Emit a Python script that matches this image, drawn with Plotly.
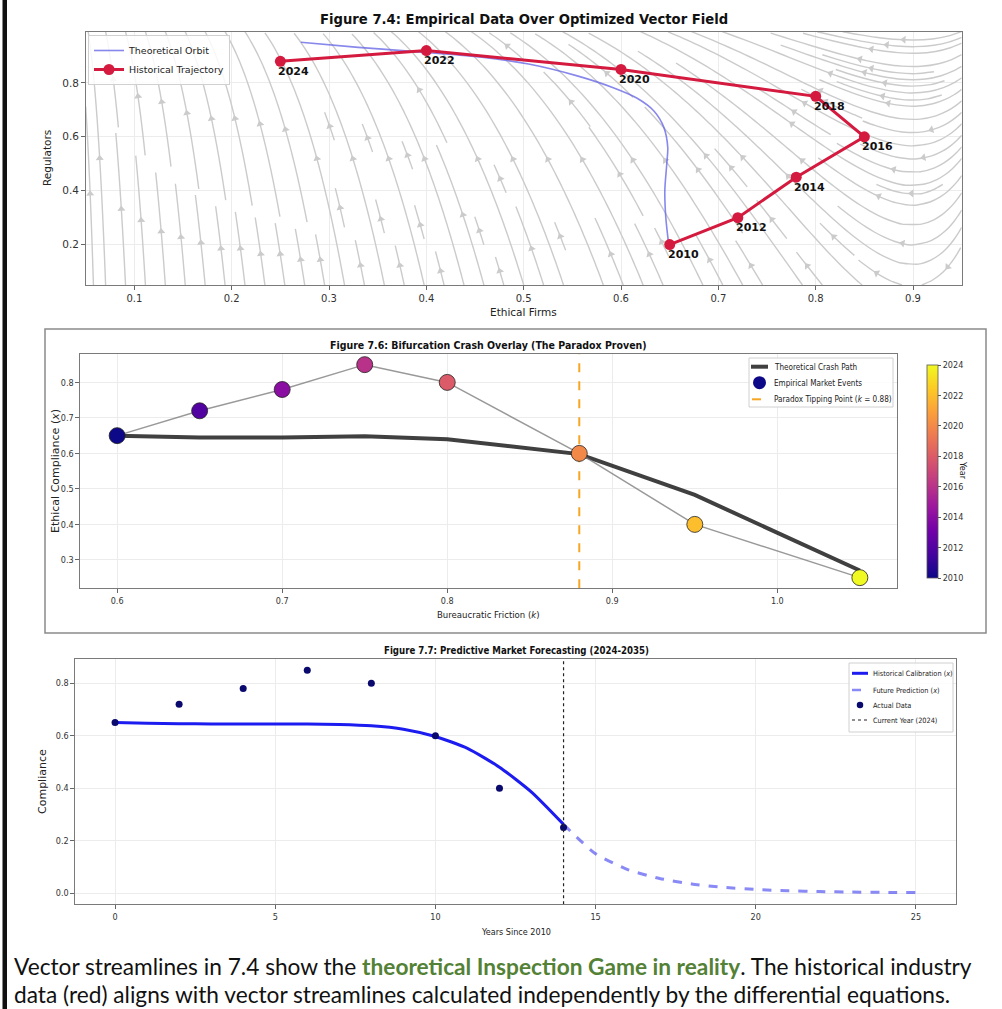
import numpy as np
import plotly.graph_objects as go

W, H = 1002, 1009

# ---------------- Figure 7.4: trajectory over the vector field ----------------
years = [2010, 2012, 2014, 2016, 2018, 2020, 2022, 2024]
ethical_firms = [0.65, 0.72, 0.78, 0.85, 0.80, 0.60, 0.40, 0.25]
regulators = [0.20, 0.30, 0.45, 0.60, 0.75, 0.85, 0.92, 0.88]

orbit_x = [0.649, 0.646, 0.645, 0.647, 0.648, 0.644, 0.634, 0.617, 0.592,
           0.555, 0.505, 0.455, 0.385, 0.330, 0.271]
orbit_y = [0.200, 0.300, 0.400, 0.500, 0.560, 0.635, 0.695, 0.742, 0.782,
           0.826, 0.870, 0.896, 0.917, 0.932, 0.951]

# ---------------- Figure 7.6: bifurcation overlay ----------------
friction_k = [0.60, 0.65, 0.70, 0.75, 0.80, 0.88, 0.95, 1.05]
compliance = [0.65, 0.72, 0.78, 0.85, 0.80, 0.60, 0.40, 0.25]
crash_path = [0.650, 0.645, 0.645, 0.648, 0.640, 0.598, 0.483, 0.270]
tipping_k = 0.88

# ---------------- Figure 7.7: forecast ----------------
years_since = [0, 2, 4, 6, 8, 10, 12, 14]
calib_t = list(range(0, 15))
calib_x = [0.650, 0.648, 0.646, 0.645, 0.645, 0.645, 0.645, 0.643, 0.638,
           0.625, 0.597, 0.552, 0.480, 0.385, 0.262]
forecast_t = list(range(14, 26))
forecast_x = [0.262, 0.150, 0.090, 0.056, 0.035, 0.022, 0.014, 0.009,
              0.006, 0.004, 0.003, 0.002]
current_year_t = 14

# ---------------- vector field (ethical firms x, regulators y) ----------------
X_STAR = 0.90   # regulators' nullcline
Y_CAP = 1.2
GAIN = 6.5
XR = (0.05, 0.95)
YR = (0.05, 0.99)


def field(x, y):
    dx = -x * (1.0 - x)
    dy = GAIN * (X_STAR - x) * (Y_CAP - y)
    return dx, dy


def spiral(n):
    xfirst, yfirst, xlast, ylast = 0, 1, n - 1, n - 1
    x = y = 0
    d = 'right'
    for _ in range(n * n):
        yield x, y
        if d == 'right':
            x += 1
            if x >= xlast:
                xlast -= 1
                d = 'up'
        elif d == 'up':
            y += 1
            if y >= ylast:
                ylast -= 1
                d = 'left'
        elif d == 'left':
            x -= 1
            if x <= xfirst:
                xfirst += 1
                d = 'down'
        else:
            y -= 1
            if y <= yfirst:
                yfirst += 1
                d = 'right'


def streamplot(density=1.5, max_len=4.0, min_len=0.1):
    n = int(30 * density)
    step = 1.0 / n
    mask = np.zeros((n, n), dtype=bool)
    sx, sy = XR[1] - XR[0], YR[1] - YR[0]

    def direction(p):
        u, v = field(XR[0] + p[0] * sx, YR[0] + p[1] * sy)
        u /= sx
        v /= sy
        s = np.hypot(u, v)
        if s < 1e-12:
            return None
        return np.array([u / s, v / s])

    def cell(p):
        return (int(p[1] * (n - 1) + 0.5), int(p[0] * (n - 1) + 0.5))

    def inside(p):
        return 0.0 <= p[0] <= 1.0 and 0.0 <= p[1] <= 1.0

    def trace(p0, sign, start, visited):
        pts, length, p, cur = [], 0.0, p0, start
        while length < max_len:
            d1 = direction(p)
            if d1 is None:
                break
            mid = p + 0.5 * step * sign * d1
            if not inside(mid):
                break
            d2 = direction(mid)
            if d2 is None:
                break
            q = p + step * sign * d2
            if not inside(q):
                # finish the line on the frame edge
                t = 1.0
                for i in range(2):
                    if q[i] < 0:
                        t = min(t, p[i] / (p[i] - q[i]))
                    elif q[i] > 1:
                        t = min(t, (1 - p[i]) / (q[i] - p[i]))
                pts.append(p + t * (q - p))
                length += t * step
                break
            c = cell(q)
            if c != cur:
                if mask[c]:
                    break
                mask[c] = True
                visited.append(c)
                cur = c
            pts.append(q)
            length += step
            p = q
        return pts, length

    lines = []
    for ix, iy in spiral(n):
        if mask[iy, ix]:
            continue
        p0 = np.array([ix / (n - 1), iy / (n - 1)])
        mask[iy, ix] = True
        visited = [(iy, ix)]
        back, lb = trace(p0, -1.0, (iy, ix), visited)
        fwd, lf = trace(p0, 1.0, (iy, ix), visited)
        if lb + lf >= min_len:
            pts = np.array(back[::-1] + [p0] + fwd)
            lines.append(np.column_stack([XR[0] + pts[:, 0] * sx,
                                          YR[0] + pts[:, 1] * sy]))
        else:
            for c in visited:
                mask[c] = False
    return lines


# pixel boxes of the three plot areas (left, right, top, bottom)
BOX1 = (85.7, 961.7, 31.7, 285.0)
BOX2 = (80.0, 897.0, 354.0, 588.3)
BOX3 = (75.0, 956.0, 659.0, 904.3)


def xdom(b):
    return [b[0] / W, b[1] / W]


def ydom(b):
    return [1 - b[3] / H, 1 - b[2] / H]


stream = streamplot()
sx_all, sy_all = [], []
ax_x, ax_y, ax_ang = [], [], []
pw = BOX1[1] - BOX1[0]
ph = BOX1[3] - BOX1[2]
for ln in stream:
    sx_all += list(ln[:, 0]) + [None]
    sy_all += list(ln[:, 1]) + [None]
    seg = np.hypot(np.diff(ln[:, 0]), np.diff(ln[:, 1]))
    s = np.cumsum(seg)
    k = int(np.searchsorted(s, s[-1] / 2.0))
    k = min(k, len(ln) - 2)
    dxp = (ln[k + 1, 0] - ln[k, 0]) / (XR[1] - XR[0]) * pw
    dyp = (ln[k + 1, 1] - ln[k, 1]) / (YR[1] - YR[0]) * ph
    ax_x.append(0.5 * (ln[k, 0] + ln[k + 1, 0]))
    ax_y.append(0.5 * (ln[k, 1] + ln[k + 1, 1]))
    ax_ang.append(float(np.degrees(np.arctan2(dxp, dyp))))

STREAM_C = '#cbcbcb'
TOPF = 'DejaVu Sans'
CONDF = 'DejaVu Sans Condensed, DejaVu Sans'

fig = go.Figure()

# --- Figure 7.4 traces
fig.add_trace(go.Scatter(x=sx_all, y=sy_all, mode='lines',
                         line=dict(color=STREAM_C, width=1.4, shape='spline',
                                   smoothing=0.6),
                         hoverinfo='skip', showlegend=False,
                         xaxis='x', yaxis='y'))
fig.add_trace(go.Scatter(x=ax_x, y=ax_y, mode='markers',
                         marker=dict(symbol='triangle-up', size=7,
                                     color=STREAM_C, angle=ax_ang,
                                     line=dict(width=0)),
                         hoverinfo='skip', showlegend=False,
                         xaxis='x', yaxis='y'))
fig.add_trace(go.Scatter(x=orbit_x, y=orbit_y, mode='lines',
                         line=dict(color='rgba(95,95,230,0.75)', width=1.6,
                                   shape='spline', smoothing=0.8),
                         name='Theoretical Orbit', legend='legend',
                         xaxis='x', yaxis='y'))
fig.add_trace(go.Scatter(x=ethical_firms, y=regulators, mode='lines+markers',
                         line=dict(color='#d41a3e', width=3),
                         marker=dict(color='#d41a3e', size=11),
                         name='Historical Trajectory', legend='legend',
                         xaxis='x', yaxis='y'))

# --- Figure 7.6 traces
fig.add_trace(go.Scatter(x=friction_k, y=crash_path, mode='lines',
                         line=dict(color='rgba(30,30,30,0.85)', width=4),
                         showlegend=False, xaxis='x2', yaxis='y2'))
fig.add_trace(go.Scatter(x=friction_k, y=compliance, mode='lines',
                         line=dict(color='rgba(128,128,128,0.8)', width=1.5),
                         showlegend=False, hoverinfo='skip',
                         xaxis='x2', yaxis='y2'))
fig.add_trace(go.Scatter(x=[tipping_k, tipping_k], y=[0.22, 0.88], mode='lines',
                         line=dict(color='#f5a623', width=2, dash='dash'),
                         showlegend=False, xaxis='x2', yaxis='y2'))
fig.add_trace(go.Scatter(x=friction_k, y=compliance, mode='markers',
                         marker=dict(size=16, color=years, colorscale='Plasma',
                                     cmin=2010, cmax=2024,
                                     line=dict(color='#222', width=0.8),
                                     colorbar=dict(
                                         x=917 / W, xanchor='left',
                                         y=1 - 471.5 / H, yanchor='middle',
                                         len=233, lenmode='pixels',
                                         thickness=11, thicknessmode='pixels',
                                         outlinewidth=0.8, outlinecolor='#555',
                                         tickvals=list(range(2010, 2025, 2)),
                                         ticks='outside', ticklen=3,
                                         tickcolor='#555',
                                         tickfont=dict(family=CONDF, size=9,
                                                       color='#333'))),
                         showlegend=False, xaxis='x2', yaxis='y2'))

# --- Figure 7.7 traces
fig.add_trace(go.Scatter(x=calib_t, y=calib_x, mode='lines',
                         line=dict(color='#1c1cf0', width=3, shape='spline',
                                   smoothing=0.6),
                         showlegend=False, xaxis='x3', yaxis='y3'))
fig.add_trace(go.Scatter(x=forecast_t, y=forecast_x, mode='lines',
                         line=dict(color='rgba(60,60,240,0.6)', width=3,
                                   dash='dash', shape='spline', smoothing=0.6),
                         showlegend=False, xaxis='x3', yaxis='y3'))
fig.add_trace(go.Scatter(x=years_since, y=compliance, mode='markers',
                         marker=dict(size=7, color='#0a0a6e'),
                         showlegend=False, xaxis='x3', yaxis='y3'))
fig.add_trace(go.Scatter(x=[current_year_t, current_year_t], y=[-0.0425, 0.8925],
                         mode='lines',
                         line=dict(color='#222', width=1.2, dash='dot'),
                         showlegend=False, xaxis='x3', yaxis='y3'))


def axis_style(fsize, family):
    return dict(showline=True, mirror=True, linecolor='#7a7a7a', linewidth=1.1,
                ticks='outside', ticklen=3.5, tickcolor='#666', tickwidth=1,
                showgrid=True, gridcolor='#ececec', gridwidth=1,
                zeroline=False,
                tickfont=dict(family=family, size=fsize, color='#333'))


fig.update_layout(
    width=W, height=H, margin=dict(l=0, r=0, t=0, b=0),
    paper_bgcolor='white', plot_bgcolor='white',
    showlegend=True,
    xaxis=dict(domain=xdom(BOX1), range=list(XR), anchor='y',
               tickvals=[0.1, 0.2, 0.3, 0.4, 0.5, 0.6, 0.7, 0.8, 0.9],
               **axis_style(10, TOPF)),
    yaxis=dict(domain=ydom(BOX1), range=list(YR), anchor='x',
               tickvals=[0.2, 0.4, 0.6, 0.8], **axis_style(10.5, TOPF)),
    xaxis2=dict(domain=xdom(BOX2), range=[0.5775, 1.0725], anchor='y2',
                tickvals=[0.6, 0.7, 0.8, 0.9, 1.0],
                ticktext=['0.6', '0.7', '0.8', '0.9', '1.0'],
                **axis_style(9, CONDF)),
    yaxis2=dict(domain=ydom(BOX2), range=[0.22, 0.88], anchor='x2',
                tickvals=[0.3, 0.4, 0.5, 0.6, 0.7, 0.8], **axis_style(9, CONDF)),
    xaxis3=dict(domain=xdom(BOX3), range=[-1.25, 26.25], anchor='y3',
                tickvals=[0, 5, 10, 15, 20, 25], **axis_style(9, CONDF)),
    yaxis3=dict(domain=ydom(BOX3), range=[-0.0425, 0.8925], anchor='x3',
                tickvals=[0.0, 0.2, 0.4, 0.6, 0.8],
                ticktext=['0.0', '0.2', '0.4', '0.6', '0.8'],
                **axis_style(9, CONDF)),
    legend=dict(x=88 / W, y=1 - 35 / H, xanchor='left', yanchor='top',
                bgcolor='rgba(255,255,255,0.85)', bordercolor='#d0d0d0',
                borderwidth=1, font=dict(family=TOPF, size=9.5, color='#222'),
                tracegroupgap=0),
)

ann = []
shapes = []


def label(text, px, py, size, family, angle=0, color='#222', **kw):
    d = dict(text=text, x=px / W, y=1 - py / H, xref='paper', yref='paper',
             showarrow=False, textangle=angle, xanchor='center',
             yanchor='middle', font=dict(family=family, size=size, color=color))
    d.update(kw)
    ann.append(d)


def px_x(v):
    return v / W


def px_y(v):
    return 1 - v / H


def key_box(x0, x1, y0, y1):
    shapes.append(dict(type='rect', xref='paper', yref='paper',
                       x0=px_x(x0), x1=px_x(x1), y0=px_y(y1), y1=px_y(y0),
                       fillcolor='rgba(255,255,255,0.85)',
                       line=dict(color='#d0d0d0', width=1)))


def key_line(x0, x1, y, color, width, dash='solid'):
    shapes.append(dict(type='line', xref='paper', yref='paper',
                       x0=px_x(x0), x1=px_x(x1), y0=px_y(y), y1=px_y(y),
                       line=dict(color=color, width=width, dash=dash)))


def key_dot(cx, cy, d, color):
    shapes.append(dict(type='circle', xref='paper', yref='paper',
                       x0=px_x(cx - d / 2), x1=px_x(cx + d / 2),
                       y0=px_y(cy + d / 2), y1=px_y(cy - d / 2),
                       fillcolor=color, line=dict(width=0)))


def key_text(x, y, text, size):
    ann.append(dict(text=text, x=px_x(x), y=px_y(y), xref='paper', yref='paper',
                    showarrow=False, xanchor='left', yanchor='middle',
                    font=dict(family=CONDF, size=size, color='#222')))


# titles and axis labels
label('<b>Figure 7.4: Empirical Data Over Optimized Vector Field</b>', 523.7, 20,
      13.2, TOPF, color='#111')
label('Ethical Firms', 523.7, 312, 10.5, TOPF)
label('Regulators', 47, 158, 10.5, TOPF, angle=-90)

label('<b>Figure 7.6: Bifurcation Crash Overlay (The Paradox Proven)</b>', 488.5, 345,
      10.5, CONDF, color='#111')
label('Bureaucratic Friction (<i>k</i>)', 488.5, 614, 9.5, CONDF)
label('Ethical Compliance (<i>x</i>)', 55, 471, 11, TOPF, angle=-90)
label('Year', 963, 470, 9, CONDF, angle=90)

label('<b>Figure 7.7: Predictive Market Forecasting (2024-2035)</b>', 516, 650,
      9.6, CONDF, color='#111')
label('Years Since 2010', 516, 932, 9, CONDF)
label('Compliance', 42, 782, 11, TOPF, angle=-90)

# key for Figure 7.6
key_box(749, 893, 358, 407)
key_line(751, 768, 366.7, 'rgba(30,30,30,0.85)', 4)
key_text(772, 366.7, 'Theoretical Crash Path', 8.1)
key_dot(759.5, 382.7, 13, '#0d0887')
key_text(772, 382.7, 'Empirical Market Events', 8.1)
key_line(752, 768, 399.3, '#f5a623', 2, 'dash')
key_text(772, 399.3, 'Paradox Tipping Point (<i>k</i> = 0.88)', 8.1)

# key for Figure 7.7
key_box(849, 953, 663, 732)
key_line(852, 868, 673.3, '#1c1cf0', 3)
key_text(870.5, 673.3, 'Historical Calibration (<i>x</i>)', 7.3)
key_line(852, 868, 690, 'rgba(60,60,240,0.6)', 2.5, 'dash')
key_text(870.5, 690, 'Future Prediction (<i>x</i>)', 7.3)
key_dot(860, 705, 6.5, '#0a0a6e')
key_text(870.5, 705, 'Actual Data', 7.3)
key_line(852, 868, 720, '#222', 1.2, 'dot')
key_text(870.5, 720, 'Current Year (2024)', 7.3)

# year labels beside the trajectory points
for yr, xv, yv in zip(years, ethical_firms, regulators):
    ann.append(dict(text='<b>%d</b>' % yr, x=xv, y=yv, xref='x', yref='y',
                    showarrow=False, xanchor='left', yanchor='middle',
                    xshift=-4, yshift=-10,
                    font=dict(family=TOPF, size=11, color='#111')))

# caption paragraph below the figures, one annotation per line
CAP_FONT = dict(family='Lato', size=22.7, color='#111')
ann.append(dict(
    text=('Vector streamlines in 7.4 show the '
          '<b><span style="color:#538135">theoretical Inspection Game in reality</span></b>'
          '. The historical industry'),
    x=12 / W, y=1 - 966 / H, xref='paper', yref='paper', showarrow=False,
    xanchor='left', yanchor='middle', align='left', font=CAP_FONT))
ann.append(dict(
    text=('data (red) aligns with vector streamlines calculated independently by the '
          'differential equations.'),
    x=12 / W, y=1 - 994 / H, xref='paper', yref='paper', showarrow=False,
    xanchor='left', yanchor='middle', align='left', font=CAP_FONT))

shapes.append(dict(type='rect', xref='paper', yref='paper', x0=2.5 / W, x1=7 / W,
                   y0=0, y1=1, fillcolor='#111', line=dict(width=0)))
shapes.append(dict(type='rect', xref='paper', yref='paper', x0=45 / W, x1=986 / W,
                   y0=1 - 633 / H, y1=1 - 329 / H,
                   line=dict(color='#8a8a8a', width=1.5)))

fig.update_layout(annotations=ann, shapes=shapes)

fig.write_html('out.html')
